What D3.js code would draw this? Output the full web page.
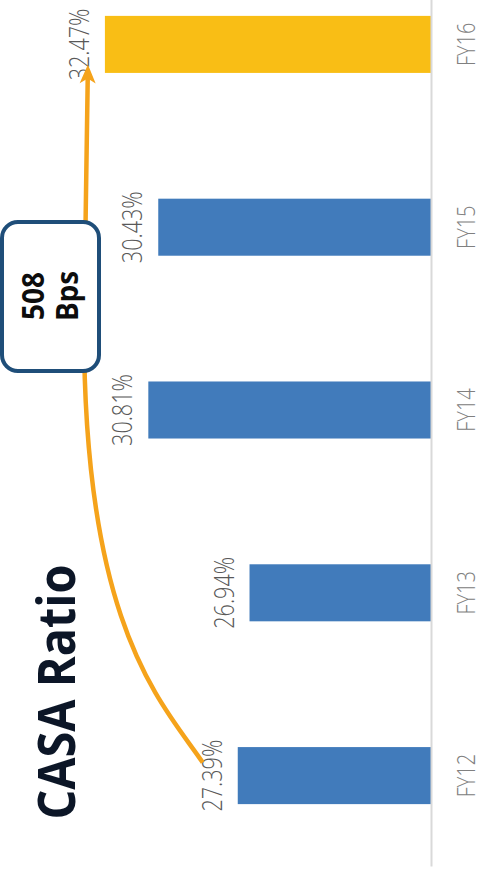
<!DOCTYPE html>
<html>
<head>
<meta charset="utf-8">
<script src="https://cdn.jsdelivr.net/npm/d3@7/dist/d3.min.js"></script>
<style>
  html, body { margin: 0; padding: 0; background: #ffffff; }
  svg { display: block; }
  text { font-family: "Open Sans", "Noto Sans", sans-serif; }
</style>
</head>
<body>
<svg id="chart" width="491" height="888"></svg>
<script>
// CASA ratio by fiscal year
const categories = ["FY12", "FY13", "FY14", "FY15", "FY16"];
const casaRatio = [27.39, 26.94, 30.81, 30.43, 32.47];
const valueLabels = ["27.39%", "26.94%", "30.81%", "30.43%", "32.47%"];
const highlightYear = "FY16";
const titleText = "CASA Ratio";

const W = 491, H = 888;
const svg = d3.select("#chart");

// The whole chart is laid out as a column chart, then turned a quarter
// turn counter-clockwise so that it reads from bottom to top.
const g = svg.append("g").attr("transform", `translate(0,${H}) rotate(-90)`);

const x = d3.scaleBand()
  .domain(categories)
  .range([21, 935])
  .paddingInner(0.688)
  .paddingOuter(0.344);

const y = d3.scaleLinear().domain([20, 36]).range([431, 12.6]);

const BLUE = "#417bbb", GOLD = "#f9be15", ORANGE = "#f5a31b", NAVY = "#1f4e79";

const data = categories.map((c, i) => ({ cat: c, value: casaRatio[i], label: valueLabels[i] }));

// bars
g.selectAll("rect.bar")
  .data(data)
  .join("rect")
  .attr("class", "bar")
  .attr("x", d => x(d.cat))
  .attr("width", x.bandwidth())
  .attr("y", d => y(d.value))
  .attr("height", d => y(20) - y(d.value))
  .attr("fill", d => d.cat === highlightYear ? GOLD : BLUE);

// category axis (baseline + labels)
const axis = d3.axisBottom(x).tickSize(0).tickPadding(0);
const axisG = g.append("g").attr("transform", `translate(0,${y(20)})`).call(axis);
axisG.select(".domain").attr("stroke", "#d9d9d9").attr("stroke-width", 2);
axisG.selectAll(".tick text")
  .attr("y", null).attr("dy", null)
  .attr("transform", "translate(0,44) scale(0.8,1)")
  .attr("font-size", 25)
  .attr("font-weight", 300)
  .attr("fill", "#808080")
  .attr("font-family", "'Open Sans', 'Noto Sans', sans-serif");

// value labels above the bars
g.selectAll("text.value")
  .data(data)
  .join("text")
  .attr("class", "value")
  .attr("text-anchor", "middle")
  .attr("transform", d => `translate(${x(d.cat) + x.bandwidth() / 2},${y(d.value) - 16}) scale(0.8,1)`)
  .attr("font-size", 27)
  .attr("font-weight", 300)
  .attr("fill", "#595959")
  .text(d => d.label);

// growth arrow from the first to the last year
const first = data[0], last = data[data.length - 1];
const p0 = [x(first.cat) + x.bandwidth() / 2 + 13, y(first.value) - 35];
const tip = [x(last.cat) + x.bandwidth() / 2 - 20, y(last.value) - 17];
const p3 = [560, 84];
const arrowPath = d3.path();
arrowPath.moveTo(p0[0], p0[1]);
arrowPath.bezierCurveTo(p0[0] + 60, p0[1] - 41, 260, p3[1], p3[0], p3[1]);
arrowPath.lineTo(tip[0] - 8, tip[1] - 0.1);

const defs = svg.append("defs");
defs.append("marker")
  .attr("id", "arrowhead")
  .attr("markerUnits", "userSpaceOnUse")
  .attr("viewBox", "-21 -10 23 20")
  .attr("refX", -8).attr("refY", 0)
  .attr("markerWidth", 23).attr("markerHeight", 20)
  .attr("orient", "auto")
  .append("path")
  .attr("d", "M0,0 L-19,-8 L-14,0 L-19,8 Z")
  .attr("fill", ORANGE);

g.append("path")
  .attr("d", arrowPath.toString())
  .attr("fill", "none")
  .attr("stroke", ORANGE)
  .attr("stroke-width", 4.5)
  .attr("marker-end", "url(#arrowhead)");

// callout box with the change in basis points
const bps = Math.round((last.value - first.value) * 100);
const box = g.append("g");
box.append("rect")
  .attr("x", 517).attr("y", 2)
  .attr("width", 149).attr("height", 97)
  .attr("rx", 16).attr("ry", 16)
  .attr("fill", "#ffffff")
  .attr("stroke", NAVY)
  .attr("stroke-width", 4);
box.append("text")
  .attr("text-anchor", "middle")
  .attr("transform", "translate(592,44) scale(0.93,1)")
  .attr("font-size", 30).attr("font-weight", 700).attr("fill", "#0d0d0d")
  .text(String(bps));
box.append("text")
  .attr("text-anchor", "middle")
  .attr("transform", "translate(592,78) scale(0.93,1)")
  .attr("font-size", 30).attr("font-weight", 700).attr("fill", "#0d0d0d")
  .text("Bps");

// title
g.append("text")
  .attr("text-anchor", "middle")
  .attr("transform", "translate(196,75) scale(0.9,1)")
  .attr("font-size", 52).attr("font-weight", 700).attr("fill", "#0c1627")
  .text(titleText);
</script>
</body>
</html>
